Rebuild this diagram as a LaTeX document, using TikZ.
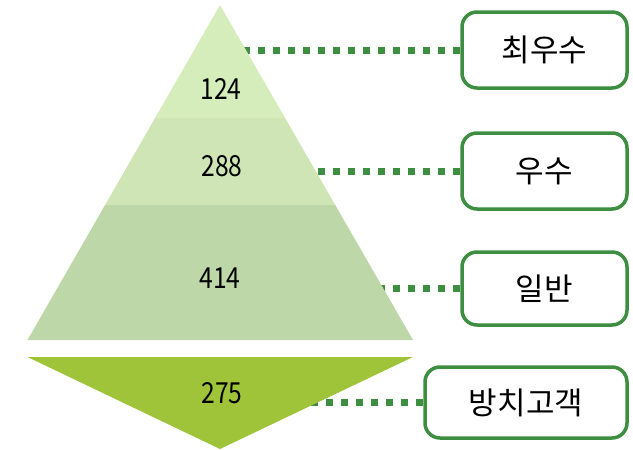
\documentclass[tikz,border=0pt]{standalone}
\usepackage{fontspec}
\setmainfont{Noto Sans CJK KR}
\definecolor{bandA}{RGB}{213,237,187}
\definecolor{bandB}{RGB}{208,229,181}
\definecolor{bandC}{RGB}{189,215,168}
\definecolor{bandD}{RGB}{160,196,57}
\definecolor{grn}{RGB}{61,142,64}
\tikzset{
  label box/.style={draw=grn, line width=3.5pt, rounded corners=15pt, fill=white,
    minimum height=76pt, inner sep=0pt, font=\fontsize{31}{35}\selectfont},
  conn/.style={draw=grn, line width=7pt, dash pattern=on 7pt off 8pt},
  numtext/.style={font=\fontsize{29}{33}\selectfont, inner sep=0pt, xscale=0.85}
}
\begin{document}
\begin{tikzpicture}[x=1pt,y=-1pt]
\useasboundingbox (0,0) rectangle (633,450);
\coordinate (apex) at (220,5);
\coordinate (bl) at (27.5,340);
\coordinate (br) at (413,340);
\coordinate (tl) at (27.5,357);
\coordinate (tr) at (413,357);
\coordinate (bot) at (220,449);
% boxes
\node[label box, minimum width=165pt] (b1) at (544.5,50) {최우수};
\node[label box, minimum width=165pt] (b2) at (544.5,171) {우수};
\node[label box, minimum width=165pt, minimum height=73pt] (b3) at (544.5,288.5) {일반};
\node[label box, minimum width=202pt, minimum height=71pt] (b4) at (526,402.5) {방치고객};
% connectors (run under the shapes)
\draw[conn] (b1.west) -- (b1.west -| apex);
\draw[conn] (b2.west) -- (b2.west -| apex);
\draw[conn] (b3.west) -- (b3.west -| apex);
\draw[conn] (b4.west) -- (b4.west -| apex);
% pyramid
\begin{scope}
  \clip (apex) -- (br) -- (bl) -- cycle;
  \fill[bandA] (0,0) rectangle (633,118);
  \fill[bandB] (0,118) rectangle (633,205);
  \fill[bandC] (0,205) rectangle (633,341);
\end{scope}
\fill[bandD] (tl) -- (tr) -- (bot) -- cycle;
% numbers
\node[numtext] (n1) at (221,89) {124};
\node[numtext] (n2) at (222,166) {288};
\node[numtext] (n3) at (220,278) {414};
\node[numtext] (n4) at (222,393) {275};
\end{tikzpicture}
\end{document}
